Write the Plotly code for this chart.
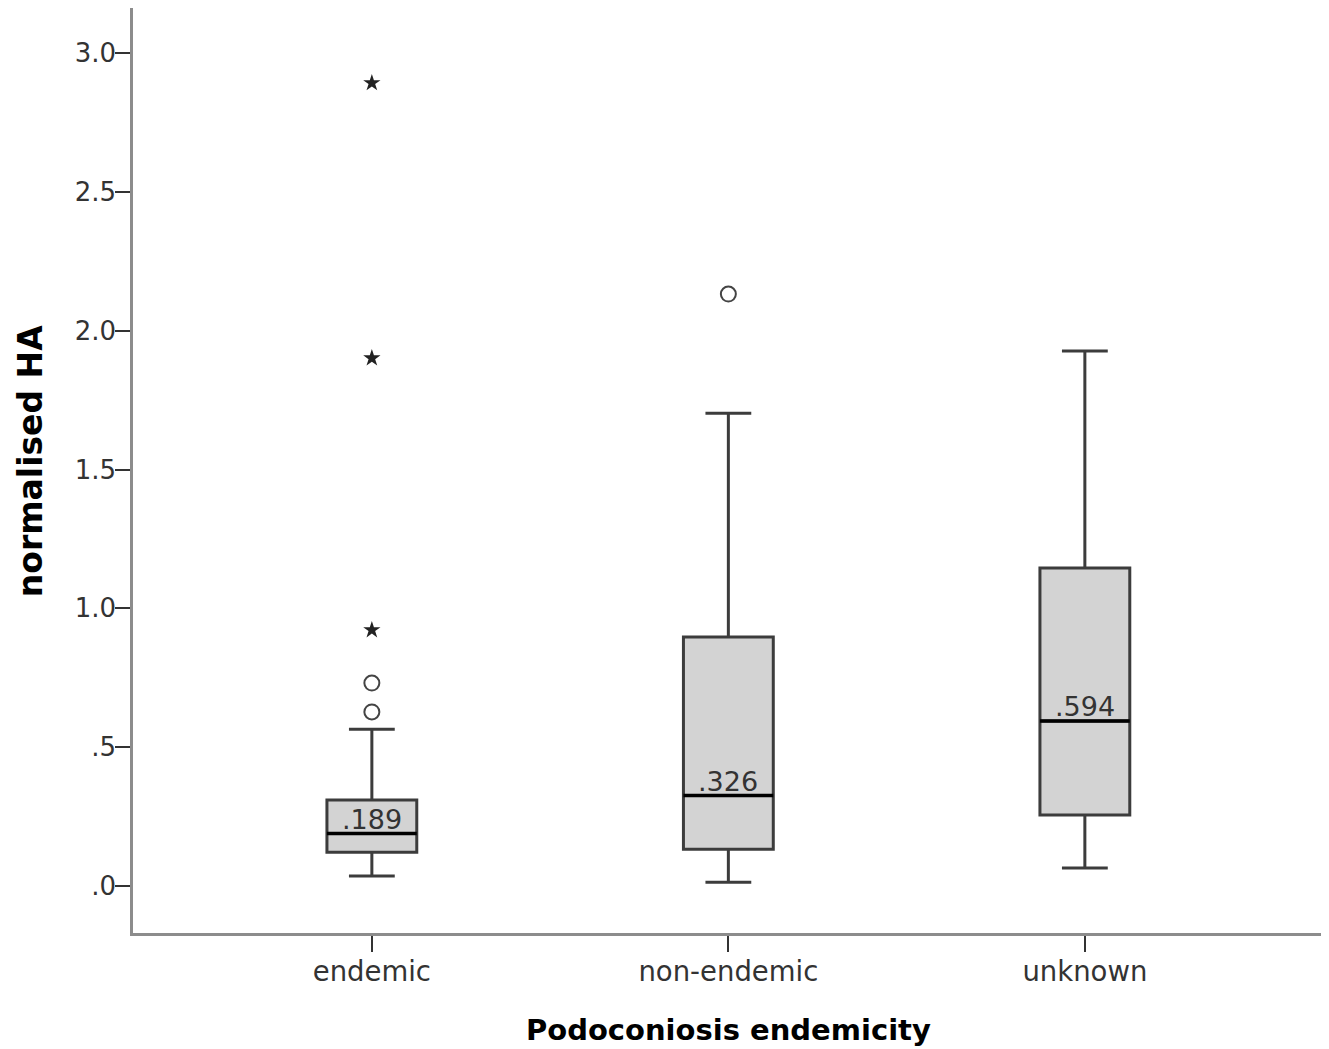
import plotly.graph_objects as go

categories = ["endemic", "non-endemic", "unknown"]
positions = [0, 1, 2]
lower_fence = [0.036, 0.014, 0.065]
q1 = [0.122, 0.133, 0.256]
median = [0.189, 0.326, 0.594]
q3 = [0.310, 0.897, 1.145]
upper_fence = [0.565, 1.703, 1.927]
median_labels = [".189", ".326", ".594"]

outlier_pos = [0, 0, 1]
outlier_vals = [0.627, 0.731, 2.132]
extreme_pos = [0, 0, 0]
extreme_vals = [0.922, 1.901, 2.892]

y_tickvals = [0, 0.5, 1.0, 1.5, 2.0, 2.5, 3.0]
y_ticktext = [".0", ".5", "1.0", "1.5", "2.0", "2.5", "3.0"]

BOX_W = 0.252
FONT = "DejaVu Sans"

fig = go.Figure()
for i, p in enumerate(positions):
    fig.add_trace(go.Box(
        x=[p], q1=[q1[i]], median=[median[i]], q3=[q3[i]],
        lowerfence=[lower_fence[i]], upperfence=[upper_fence[i]],
        width=BOX_W, whiskerwidth=0.51,
        fillcolor="#d3d3d3", line=dict(color="#3c3c3c", width=3),
        boxpoints=False, showlegend=False, hoverinfo="skip",
    ))
    fig.add_trace(go.Scatter(
        x=[p - BOX_W / 2, p + BOX_W / 2], y=[median[i], median[i]],
        mode="lines", line=dict(color="black", width=3.5),
        showlegend=False, hoverinfo="skip",
    ))
    fig.add_annotation(
        x=p, y=median[i], text=median_labels[i], showarrow=False,
        yanchor="bottom", yshift=-3, font=dict(family=FONT, size=27, color="#333"),
    )

fig.add_trace(go.Scatter(
    x=outlier_pos, y=outlier_vals, mode="markers",
    marker=dict(symbol="circle-open", size=15, color="#444", line=dict(width=2, color="#444")),
    showlegend=False,
))
fig.add_trace(go.Scatter(
    x=extreme_pos, y=extreme_vals, mode="markers",
    marker=dict(symbol="star", size=13, color="#222"),
    showlegend=False,
))

fig.update_layout(
    width=1321, height=1041,
    margin=dict(l=125, r=6, t=0, b=116),
    plot_bgcolor="white", paper_bgcolor="white",
    font=dict(family=FONT, color="#333"),
    xaxis=dict(
        range=[-0.670, 2.668], tickvals=positions, ticktext=categories,
        showline=True, linecolor="#8c8c8c", linewidth=2.5,
        ticks="outside", ticklen=16, tickwidth=2, tickcolor="#333",
        ticklabelstandoff=-4,
        tickfont=dict(family=FONT, size=27.5, color="#333"),
        showgrid=False, zeroline=False,
    ),
    yaxis=dict(
        range=[-0.169, 3.162], tickvals=y_tickvals, ticktext=y_ticktext,
        showline=True, linecolor="#8c8c8c", linewidth=2.5,
        ticks="outside", ticklen=15, tickwidth=2, tickcolor="#333",
        ticklabelstandoff=-6,
        tickfont=dict(family=FONT, size=26, color="#333"),
        showgrid=False, zeroline=False,
    ),
)

fig.add_annotation(
    xref="paper", yref="paper", x=-103 / 1190, y=0.51,
    text="<b>normalised HA</b>", textangle=-90, showarrow=False,
    xanchor="center", yanchor="middle",
    font=dict(family=FONT, size=33, color="black"),
)
fig.add_annotation(
    xref="paper", yref="paper", x=0.5, y=-0.105,
    text="<b>Podoconiosis endemicity</b>", showarrow=False,
    xanchor="center", yanchor="middle",
    font=dict(family=FONT, size=29, color="black"),
)

fig.write_html("out.html")
